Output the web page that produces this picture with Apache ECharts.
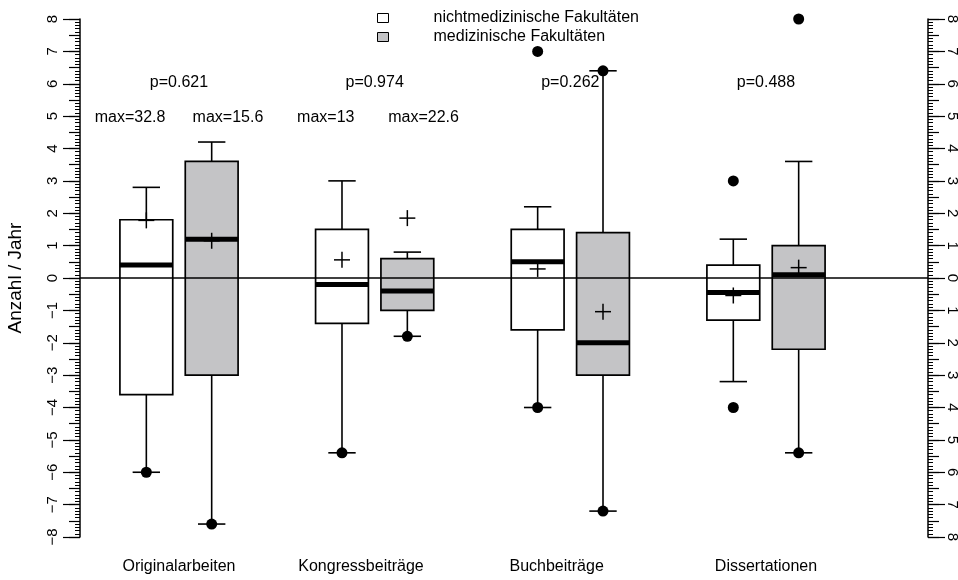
<!DOCTYPE html>
<html><head><meta charset="utf-8">
<script src="https://cdn.jsdelivr.net/npm/echarts@6/dist/echarts.min.js"></script>
<style>html,body{margin:0;padding:0;background:#fff}#c{width:958px;height:580px}</style>
</head><body><div id="c"></div>
<script>
// ---------- data ----------
const categories = ['Originalarbeiten', 'Kongressbeiträge', 'Buchbeiträge', 'Dissertationen'];
const seriesNames = ['nichtmedizinische Fakultäten', 'medizinische Fakultäten'];
// [whisker low, Q1, median, Q3, whisker high]
const boxNonMed = [[-6.0, -3.6, 0.4, 1.8, 2.8], [-5.4, -1.4, -0.2, 1.5, 3.0], [-4.0, -1.6, 0.5, 1.5, 2.2], [-3.2, -1.3, -0.45, 0.4, 1.2]];
const boxMed = [[-7.6, -3.0, 1.2, 3.6, 4.2], [-1.8, -1.0, -0.4, 0.6, 0.8], [-7.2, -3.0, -2.0, 1.4, 6.4], [-5.4, -2.2, 0.1, 1.0, 3.6]];
const meanNonMed = [1.78, 0.56, 0.28, -0.54];
const meanMed = [1.15, 1.85, -1.04, 0.32];
const pointsNonMed = [[-6.0], [-5.4], [-4.0, 7.0], [3.0, -4.0]];
const pointsMed = [[-7.6], [-1.8], [6.4, -7.2], [8.0, -5.4]];
const pValues = ['p=0.621', 'p=0.974', 'p=0.262', 'p=0.488'];
const maxNonMed = ['max=32.8', 'max=13', '', ''];
const maxMed = ['max=15.6', 'max=22.6', '', ''];
const yMin = -8, yMax = 8, yInterval = 1;

// ---------- layout constants ----------
const GROUP_OFF = 0.167, BOX_W = 0.27, CAP_W = 0.14;
const P_Y = 6.05, MAX_Y = 4.97, MAX_DX = 0.25;
const CAT_LABEL_X = [1.0, 1.93, 2.93, 4.0];
const FONT = '"Liberation Sans", Arial, Helvetica, sans-serif';
const GRAY = '#c4c4c6';
const FS = 16;

const fmtMinus = v => String(v).replace('-', '\u2212');

function boxRender(fill) {
  return function (params, api) {
    const x = api.value(0);
    const y = [1, 2, 3, 4, 5].map(k => api.coord([x, api.value(k)])[1]);
    const cx = api.coord([x, 0])[0];
    const w = api.size([BOX_W, 0])[0];
    const cw = api.size([CAP_W, 0])[0];
    const ls = { stroke: '#000', lineWidth: 1.6 };
    return {
      type: 'group',
      children: [
        { type: 'line', shape: { x1: cx, y1: y[0], x2: cx, y2: y[1] }, style: ls },
        { type: 'line', shape: { x1: cx, y1: y[3], x2: cx, y2: y[4] }, style: ls },
        { type: 'line', shape: { x1: cx - cw / 2, y1: y[0], x2: cx + cw / 2, y2: y[0] }, style: ls },
        { type: 'line', shape: { x1: cx - cw / 2, y1: y[4], x2: cx + cw / 2, y2: y[4] }, style: ls },
        { type: 'rect', shape: { x: cx - w / 2, y: y[3], width: w, height: y[1] - y[3] }, style: { fill: fill, stroke: '#000', lineWidth: 1.7 } },
        { type: 'line', shape: { x1: cx - w / 2, y1: y[2], x2: cx + w / 2, y2: y[2] }, style: { stroke: '#000', lineWidth: 5 } }
      ]
    };
  };
}
function plusRender(params, api) {
  const c = api.coord([api.value(0), api.value(1)]);
  const h = 8;
  const st = { stroke: '#000', lineWidth: 1.5 };
  return {
    type: 'group', children: [
      { type: 'line', shape: { x1: c[0] - h, y1: c[1], x2: c[0] + h, y2: c[1] }, style: st },
      { type: 'line', shape: { x1: c[0], y1: c[1] - h, x2: c[0], y2: c[1] + h }, style: st }
    ]
  };
}

const xOf = (i, side) => i + 1 + side * GROUP_OFF;
const boxData = (arr, side) => arr.map((b, i) => [xOf(i, side)].concat(b));
const meanData = (arr, side) => arr.map((m, i) => [xOf(i, side), m]);
const pointData = (arr, side) => { const out = []; arr.forEach((ps, i) => ps.forEach(v => out.push([xOf(i, side), v]))); return out; };
const textData = [];
pValues.forEach((t, i) => textData.push([i + 1, P_Y, t]));
maxNonMed.forEach((t, i) => { if (t) textData.push([i + 1 - MAX_DX, MAX_Y, t]); });
maxMed.forEach((t, i) => { if (t) textData.push([i + 1 + MAX_DX, MAX_Y, t]); });

const yBase = { type: 'value', min: yMin, max: yMax, interval: yInterval, splitLine: { show: false } };
const tickStyle = { color: '#000', width: 1.2 };

const chart = echarts.init(document.getElementById('c'), null, { renderer: 'canvas' });
chart.setOption({
  animation: false,
  backgroundColor: '#fff',
  textStyle: { fontFamily: FONT },
  grid: { left: 80, right: 30, top: 19, bottom: 43, containLabel: false, outerBoundsMode: 'none' },
  legend: {
    orient: 'vertical', left: 377, top: 10, padding: 0, itemWidth: 11, itemHeight: 9, itemGap: 3,
    textStyle: { fontFamily: FONT, fontSize: FS, color: '#000', padding: [0, 0, 0, 40], lineHeight: 16 },
    data: [
      { name: seriesNames[0], icon: 'rect', itemStyle: { color: '#fff', borderColor: '#000', borderWidth: 1 } },
      { name: seriesNames[1], icon: 'rect', itemStyle: { color: GRAY, borderColor: '#000', borderWidth: 1 } }
    ],
    selectedMode: false
  },
  xAxis: {
    type: 'value', min: 0.494, max: 4.828,
    axisLine: { show: false }, axisTick: { show: false }, splitLine: { show: false },
    axisLabel: {
      customValues: CAT_LABEL_X, margin: 22, fontSize: FS, color: '#000', fontFamily: FONT,
      formatter: v => { const i = CAT_LABEL_X.findIndex(c => Math.abs(c - v) < 1e-6); return i >= 0 ? categories[i] : ''; }
    }
  },
  yAxis: [
    Object.assign({}, yBase, {
      position: 'left',
      axisLine: { show: true, lineStyle: { color: '#000', width: 1.5 } },
      axisTick: { show: true, length: 17, lineStyle: tickStyle },
      minorTick: { show: true, splitNumber: 10, length: 5, lineStyle: { color: '#000', width: 1 } },
      axisLabel: { rotate: 90, margin: 20, fontSize: 15, color: '#000', fontFamily: FONT, formatter: fmtMinus },
      name: 'Anzahl / Jahr', nameLocation: 'middle', nameRotate: 90, nameGap: 55,
      nameTextStyle: { fontSize: 19, color: '#000', fontFamily: FONT }
    }),
    Object.assign({}, yBase, {
      position: 'left', interval: 0.5,
      axisLine: { show: false }, axisTick: { show: true, length: 11, lineStyle: tickStyle }, axisLabel: { show: false }
    }),
    Object.assign({}, yBase, {
      position: 'right',
      axisLine: { show: true, lineStyle: { color: '#000', width: 1.5 } },
      axisTick: { show: true, length: 17, lineStyle: tickStyle },
      minorTick: { show: true, splitNumber: 10, length: 5, lineStyle: { color: '#000', width: 1 } },
      axisLabel: { rotate: -90, margin: 17, fontSize: 15, color: '#000', fontFamily: FONT, formatter: v => String(Math.abs(v)) }
    }),
    Object.assign({}, yBase, {
      position: 'right', interval: 0.5,
      axisLine: { show: false }, axisTick: { show: true, length: 11, lineStyle: tickStyle }, axisLabel: { show: false }
    })
  ],
  series: [
    {
      name: seriesNames[0], type: 'custom', renderItem: boxRender('#fff'), data: boxData(boxNonMed, -1),
      itemStyle: { color: '#fff' }, encode: { x: 0, y: [1, 2, 3, 4, 5] }, z: 3,
      markLine: { silent: true, symbol: 'none', label: { show: false }, lineStyle: { color: '#000', width: 1.5, type: 'solid' }, data: [{ yAxis: 0 }] }
    },
    { name: seriesNames[1], type: 'custom', renderItem: boxRender(GRAY), data: boxData(boxMed, 1), itemStyle: { color: GRAY }, encode: { x: 0, y: [1, 2, 3, 4, 5] }, z: 3 },
    { type: 'custom', renderItem: plusRender, data: meanData(meanNonMed, -1).concat(meanData(meanMed, 1)), encode: { x: 0, y: 1 }, z: 5 },
    { type: 'scatter', symbol: 'circle', symbolSize: 11, itemStyle: { color: '#000', opacity: 1 }, data: pointData(pointsNonMed, -1).concat(pointData(pointsMed, 1)), z: 6 },
    {
      type: 'scatter', symbolSize: 1, itemStyle: { color: 'rgba(0,0,0,0)', opacity: 1 }, data: textData, z: 7,
      label: { show: true, position: 'inside', formatter: p => p.data[2], color: '#000', fontSize: FS, fontFamily: FONT }
    }
  ]
});
</script></body></html>
